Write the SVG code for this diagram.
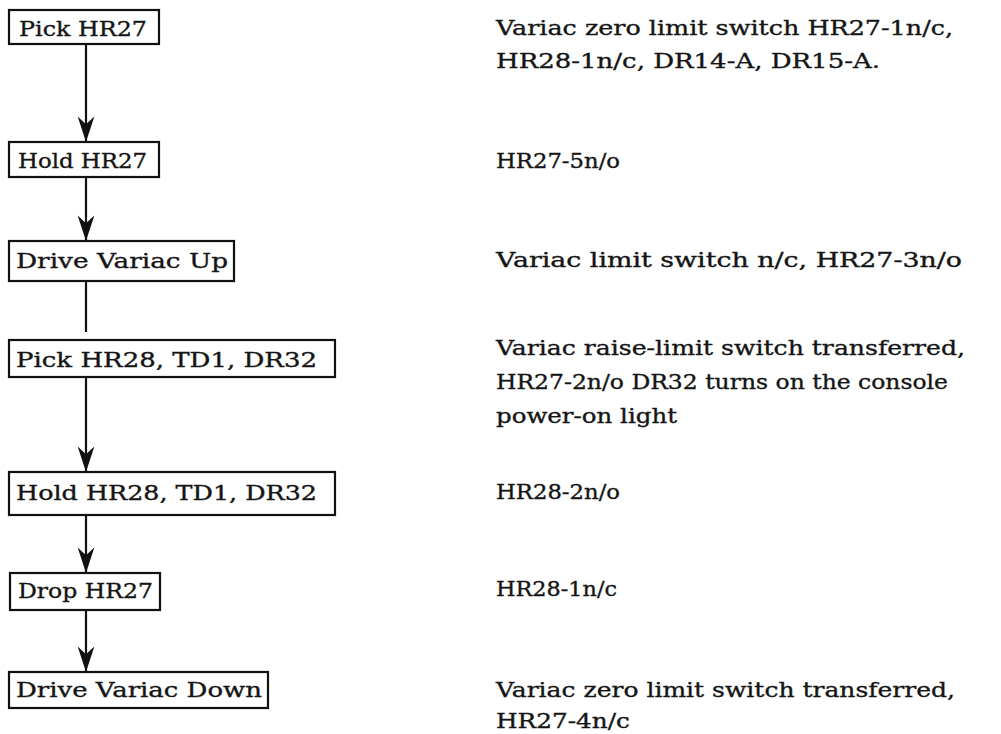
<svg xmlns="http://www.w3.org/2000/svg" width="1001" height="734" viewBox="0 0 1001 734">
<style>
.box{fill:#fff;stroke:#111;stroke-width:2.2}
.t{font-family:"DejaVu Serif","Liberation Serif",serif;font-size:20px;fill:#151515;stroke:#151515;stroke-width:0.35}
.line{stroke:#111;stroke-width:2.2;fill:none}
</style>
<defs>
<marker id="arr" markerUnits="userSpaceOnUse" markerWidth="30" markerHeight="20" viewBox="-24 -9 26 18" refX="0" refY="0" orient="auto">
<path d="M0,0 L-23,-7.5 L-16,0 L-23,7.5 Z" fill="#111"/>
</marker>
</defs>
<rect width="1001" height="734" fill="#fff"/>
<g id="connectors">
<line class="line" x1="86" y1="44" x2="86" y2="142" marker-end="url(#arr)"/>
<line class="line" x1="86" y1="177" x2="86" y2="241" marker-end="url(#arr)"/>
<line class="line" x1="86" y1="281" x2="86" y2="332"/>
<line class="line" x1="86" y1="377" x2="86" y2="472" marker-end="url(#arr)"/>
<line class="line" x1="86" y1="515" x2="86" y2="573" marker-end="url(#arr)"/>
<line class="line" x1="86" y1="610" x2="86" y2="672" marker-end="url(#arr)"/>
</g>
<g id="n1"><rect class="box" x="9" y="10" width="150" height="34"/><text class="t" x="19" y="36" textLength="128" lengthAdjust="spacingAndGlyphs">Pick HR27</text></g>
<g id="n2"><rect class="box" x="9" y="142" width="150" height="35"/><text class="t" x="18" y="168" textLength="129" lengthAdjust="spacingAndGlyphs">Hold HR27</text></g>
<g id="n3"><rect class="box" x="9" y="241" width="225" height="40"/><text class="t" x="16" y="268" textLength="212" lengthAdjust="spacingAndGlyphs">Drive Variac Up</text></g>
<g id="n4"><rect class="box" x="9" y="340" width="326" height="37"/><text class="t" x="16" y="367" textLength="301" lengthAdjust="spacingAndGlyphs">Pick HR28, TD1, DR32</text></g>
<g id="n5"><rect class="box" x="9" y="472" width="326" height="43"/><text class="t" x="16" y="500" textLength="301" lengthAdjust="spacingAndGlyphs">Hold HR28, TD1, DR32</text></g>
<g id="n6"><rect class="box" x="10" y="573" width="150" height="37"/><text class="t" x="18" y="598" textLength="135" lengthAdjust="spacingAndGlyphs">Drop HR27</text></g>
<g id="n7"><rect class="box" x="9" y="672" width="259" height="36"/><text class="t" x="16" y="697" textLength="246" lengthAdjust="spacingAndGlyphs">Drive Variac Down</text></g>
<g id="notes">
<text class="t" x="496" y="35" textLength="457" lengthAdjust="spacingAndGlyphs">Variac zero limit switch HR27-1n/c,</text>
<text class="t" x="496" y="68" textLength="384" lengthAdjust="spacingAndGlyphs">HR28-1n/c, DR14-A, DR15-A.</text>
<text class="t" x="496" y="168" textLength="124" lengthAdjust="spacingAndGlyphs">HR27-5n/o</text>
<text class="t" x="496" y="267" textLength="466" lengthAdjust="spacingAndGlyphs">Variac limit switch n/c, HR27-3n/o</text>
<text class="t" x="496" y="355" textLength="469" lengthAdjust="spacingAndGlyphs">Variac raise-limit switch transferred,</text>
<text class="t" x="496" y="389" textLength="452" lengthAdjust="spacingAndGlyphs">HR27-2n/o DR32 turns on the console</text>
<text class="t" x="496" y="423" textLength="181" lengthAdjust="spacingAndGlyphs">power-on light</text>
<text class="t" x="496" y="499" textLength="124" lengthAdjust="spacingAndGlyphs">HR28-2n/o</text>
<text class="t" x="496" y="596" textLength="121" lengthAdjust="spacingAndGlyphs">HR28-1n/c</text>
<text class="t" x="496" y="697" textLength="459" lengthAdjust="spacingAndGlyphs">Variac zero limit switch transferred,</text>
<text class="t" x="496" y="728" textLength="134" lengthAdjust="spacingAndGlyphs">HR27-4n/c</text>
</g>
</svg>
